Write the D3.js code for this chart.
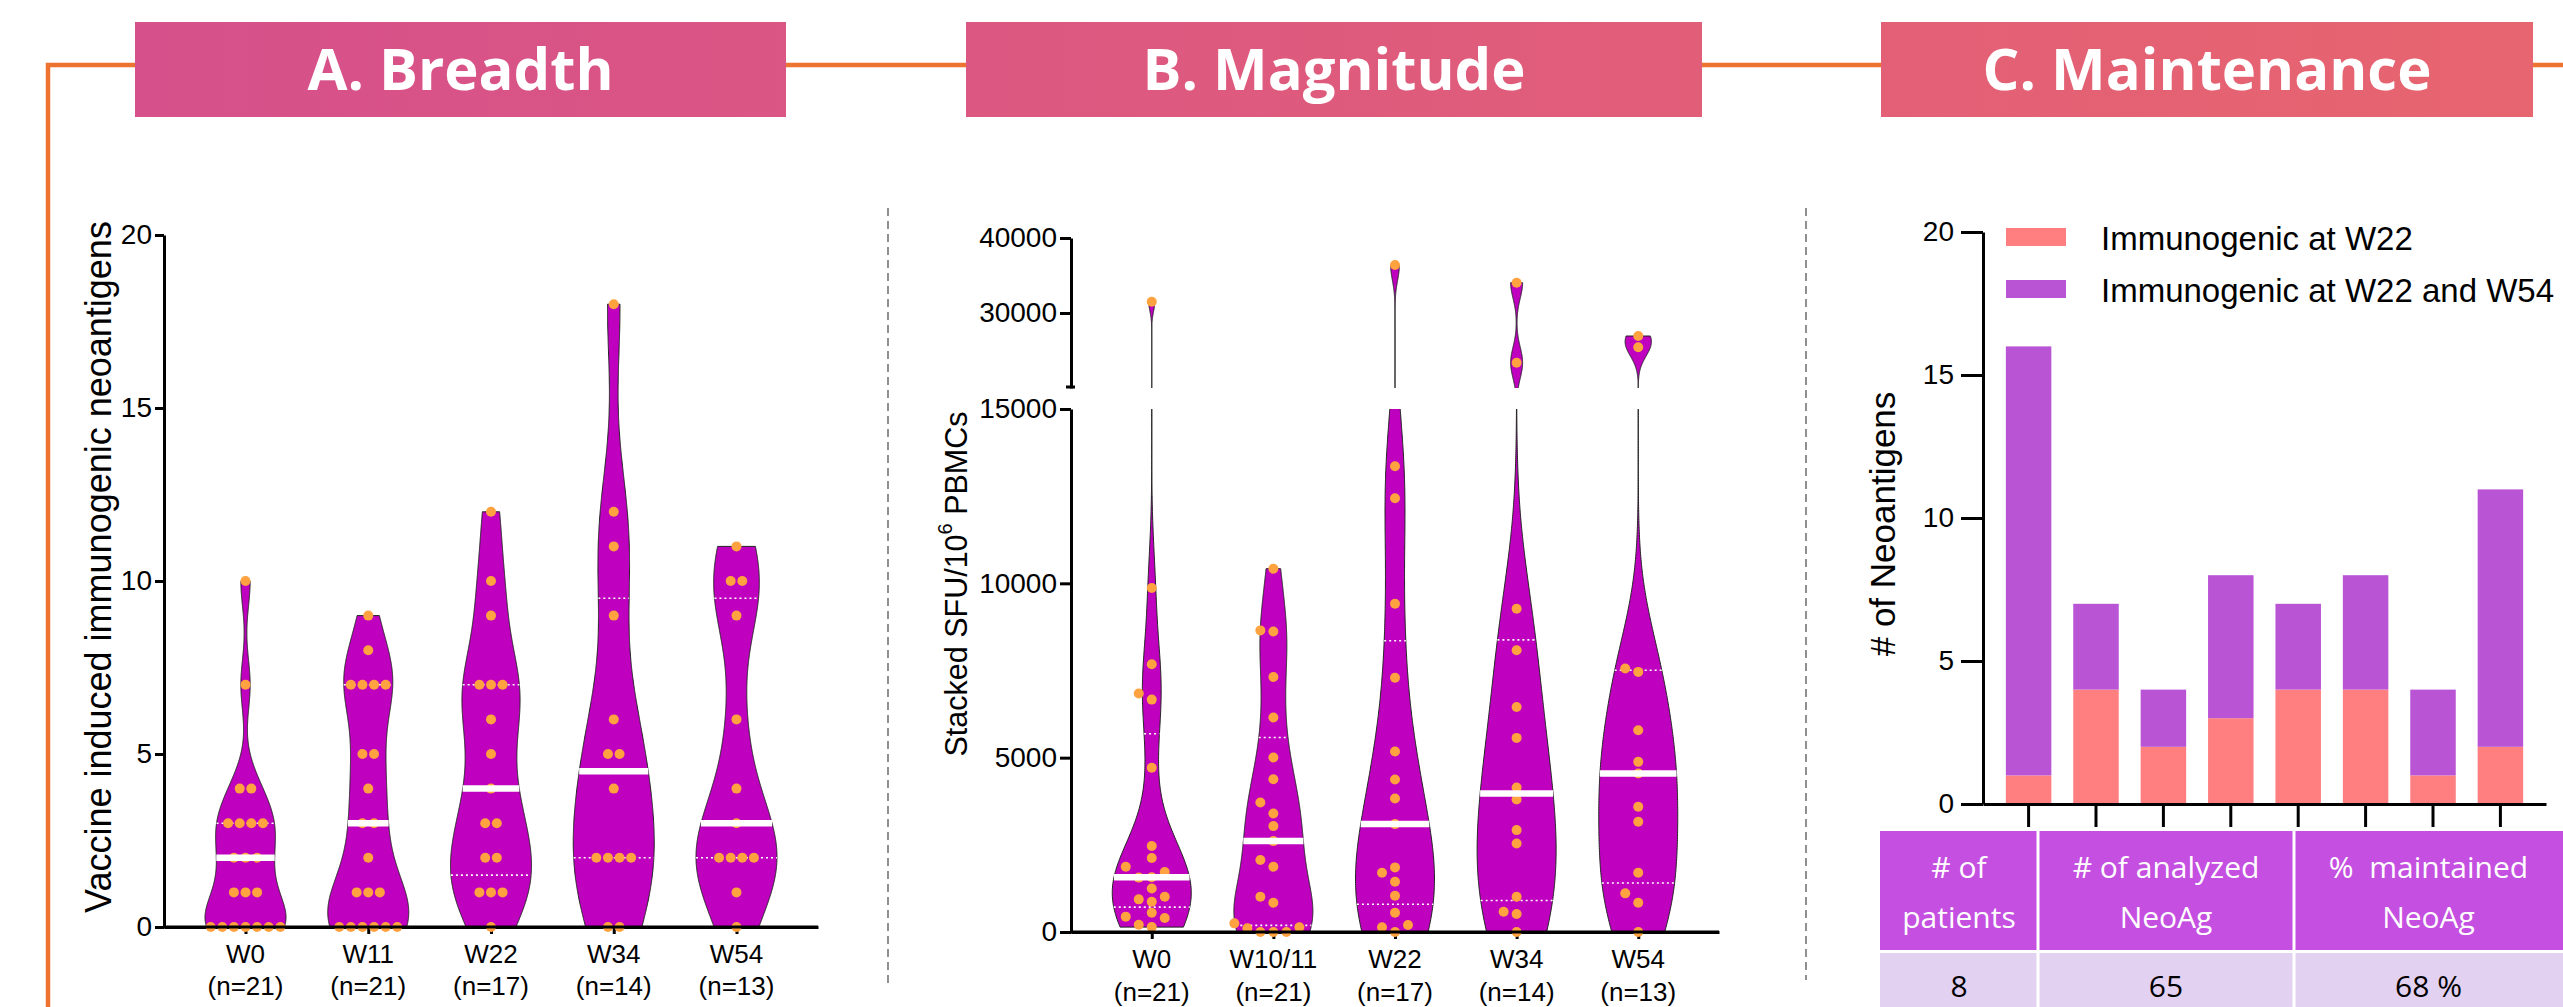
<!DOCTYPE html>
<html><head><meta charset="utf-8">
<script src="https://cdn.jsdelivr.net/npm/d3@7"></script>
<style>
html,body{margin:0;padding:0;background:#fff;}
svg{display:block;}
</style></head><body>
<svg id="chart" width="2563" height="1007"></svg>
<script>
// ---------------- data ----------------
const panelTitles = ["A. Breadth", "B. Magnitude", "C. Maintenance"];

const breadthCategories = ["W0", "W11", "W22", "W34", "W54"];
const breadthCounts = ["(n=21)", "(n=21)", "(n=17)", "(n=14)", "(n=13)"];
const breadthW0  = [0,0,0,0,0,0,0,1,1,1,2,2,2,3,3,3,3,4,4,7,10];
const breadthW11 = [0,0,0,0,0,0,1,1,1,2,3,3,4,5,5,7,7,7,7,8,9];
const breadthW22 = [0,1,1,1,2,2,3,3,4,5,6,7,7,7,9,10,12];
const breadthW34 = [0,0,2,2,2,2,4,5,5,6,9,11,12,18];
const breadthW54 = [0,1,2,2,2,2,3,4,6,9,10,10,11];
const breadthTicks = [0, 5, 10, 15, 20];
const breadthAxisTitle = "Vaccine induced immunogenic neoantigens";

const magnitudeCategories = ["W0", "W10/11", "W22", "W34", "W54"];
const magnitudeCounts = ["(n=21)", "(n=21)", "(n=17)", "(n=14)", "(n=13)"];
const magnitudeW0   = [140,210,400,440,554,870,936,1012,1250,1560,1570,1720,1872,2120,2465,4710,6665,6840,7680,9865,31500];
const magnitudeW1011 = [0,0,0,105,134,248,840,1012,1872,2063,2607,3037,3400,3715,4383,5005,6150,7315,8620,8650,10420];
const magnitudeW22  = [0,134,200,554,1041,1442,1700,1853,3094,3830,4373,5175,7290,9415,12440,13360,36400];
const magnitudeW34  = [0,516,582,1012,2540,2922,3800,4145,5567,6455,8080,9273,23370,34040];
const magnitudeW54  = [0,840,1108,1700,3160,3590,4546,4880,5787,7460,7555,25430,26930];
const magnitudeTicksLow = [0, 5000, 10000, 15000];
const magnitudeTicksHigh = [30000, 40000];

const maintenancePatients = ["P1","P2","P3","P4","P5","P6","P7","P8"];
const maintenanceW22Only = [1,4,2,3,4,4,1,2];
const maintenanceW22andW54 = [15,3,2,5,3,4,3,9];
const maintenanceTicks = [0, 5, 10, 15, 20];
const maintenanceLegend = ["Immunogenic at W22", "Immunogenic at W22 and W54"];
const tableHeaders = [["# of", "patients"], ["# of analyzed", "NeoAg"], ["%  maintained", "NeoAg"]];

// ---------------- style ----------------
const FONT = "Arial, 'Liberation Sans', Helvetica, sans-serif";
const TFONT = "'Open Sans', 'Noto Sans', sans-serif";
const VIOLIN = "#BF00BF";
const DOT = "#FFA23F";
const PINK = "#FF7F80";
const PURPLE = "#B955D5";
const ORANGE = "#EE7230";

const svg = d3.select("#chart");
const defs = svg.append("defs");

const grad = defs.append("linearGradient").attr("id", "titleGrad")
  .attr("gradientUnits", "userSpaceOnUse").attr("x1", 135).attr("x2", 2533).attr("y1", 0).attr("y2", 0);
grad.append("stop").attr("offset", 0).attr("stop-color", "#D6508B");
grad.append("stop").attr("offset", 1).attr("stop-color", "#E7656F");

// frame
svg.append("path").attr("d", "M48,1007V65H2563").attr("fill", "none")
  .attr("stroke", ORANGE).attr("stroke-width", 4.5);

const titleBoxes = [[135, 786], [966, 1702], [1881, 2533]];
panelTitles.forEach((t, i) => {
  const [x0, x1] = titleBoxes[i];
  svg.append("rect").attr("x", x0).attr("y", 22).attr("width", x1 - x0).attr("height", 95)
    .attr("fill", "url(#titleGrad)");
  svg.append("text").attr("x", (x0 + x1) / 2).attr("y", 90).attr("text-anchor", "middle")
    .attr("font-family", TFONT).attr("font-weight", 700).attr("font-size", 58)
    .attr("fill", "#fff").text(t);
});

// separators
[[888, 208, 987], [1806, 208, 980]].forEach(([x, y0, y1]) => {
  svg.append("line").attr("x1", x).attr("x2", x).attr("y1", y0).attr("y2", y1)
    .attr("stroke", "#555").attr("stroke-width", 1.3).attr("stroke-dasharray", "8,5");
});

// ---------------- helpers ----------------
function quartile(s, p) {
  const n = s.length, h = (n + 1) * p, lo = Math.floor(h);
  if (lo < 1) return s[0];
  if (lo >= n) return s[n - 1];
  return s[lo - 1] + (h - lo) * (s[lo] - s[lo - 1]);
}
function bandwidth(s) {
  const n = s.length, sd = d3.deviation(s);
  const iqr = quartile(s, 0.75) - quartile(s, 0.25);
  const spread = iqr > 0 ? Math.min(sd, iqr / 1.34) : sd;
  return 0.9 * spread * Math.pow(n, -0.2) * 0.7;
}
function violinShape(s, halfW) {
  const bw = bandwidth(s);
  const f = v => d3.sum(s, x => Math.exp(-0.5 * ((v - x) / bw) ** 2));
  const lo = s[0], hi = s[s.length - 1], N = 600;
  const pts = d3.range(N + 1).map(i => { const v = lo + (hi - lo) * i / N; return { v, d: f(v) }; });
  const maxD = d3.max(pts, p => p.d);
  pts.forEach(p => p.w = p.d / maxD * halfW);
  return { pts, width: v => f(v) / maxD * halfW };
}
function styleAxis(g, fs) {
  g.select(".domain").attr("stroke", "#000").attr("stroke-width", 3);
  g.selectAll(".tick line").attr("stroke", "#000").attr("stroke-width", 3);
  g.selectAll(".tick text").attr("font-family", FONT).attr("font-size", fs).attr("fill", "#000");
}
function rotatedTitle(x, y, size) {
  return svg.append("text").attr("transform", `translate(${x},${y}) rotate(-90)`)
    .attr("text-anchor", "middle").attr("dominant-baseline", "central")
    .attr("font-family", FONT).attr("font-size", size).attr("fill", "#000");
}

// generic violin panel
function violinPanel(opts) {
  const { cats, counts, groups, x, segments, yPix, halfW, dotLayout, labelY } = opts;
  const g = svg.append("g");
  groups.forEach((vals, i) => {
    const s = vals.slice().sort(d3.ascending);
    const shape = violinShape(s, halfW);
    const cx = x(cats[i]);
    segments.forEach(seg => {
      const area = d3.area().x0(p => cx - p.w).x1(p => cx + p.w).y(p => seg.y(p.v));
      g.append("path").attr("d", area(shape.pts)).attr("fill", VIOLIN)
        .attr("stroke", "#222").attr("stroke-width", 1)
        .attr("clip-path", seg.clip ? `url(#${seg.clip})` : null);
    });
    // quartiles
    [0.25, 0.75].forEach(p => {
      const q = quartile(s, p), w = shape.width(q);
      g.append("line").attr("x1", cx - w).attr("x2", cx + w).attr("y1", yPix(q)).attr("y2", yPix(q))
        .attr("stroke", "#fff").attr("stroke-width", 1.6).attr("stroke-dasharray", "2,3");
    });
    // dots
    const placed = dotLayout(s, cx);
    g.selectAll(null).data(placed).join("circle")
      .attr("cx", d => d.x).attr("cy", d => d.y).attr("r", 5).attr("fill", DOT);
    // median
    const med = quartile(s, 0.5), mw = shape.width(med);
    g.append("line").attr("x1", cx - mw).attr("x2", cx + mw).attr("y1", yPix(med)).attr("y2", yPix(med))
      .attr("stroke", "#fff").attr("stroke-width", 6.5);
  });
  // category labels
  cats.forEach((c, i) => {
    const t = svg.append("text").attr("x", x(c)).attr("text-anchor", "middle")
      .attr("font-family", FONT).attr("font-size", 26).attr("fill", "#000");
    t.append("tspan").attr("x", x(c)).attr("y", labelY[0]).text(c);
    t.append("tspan").attr("x", x(c)).attr("y", labelY[1]).text(counts[i]);
  });
}

// ---------------- Panel A ----------------
const xA = d3.scalePoint().domain(breadthCategories).range([164, 818]).padding(0.664);
const yA = d3.scaleLinear().domain([0, 20]).range([927, 235]);
{
  const ax = svg.append("g").attr("transform", "translate(164,0)")
    .call(d3.axisLeft(yA).tickValues(breadthTicks).tickSize(9).tickSizeOuter(0).tickPadding(3));
  styleAxis(ax, 28);
  const bx = svg.append("g").attr("transform", "translate(0,927)")
    .call(d3.axisBottom(xA).tickSize(7).tickSizeOuter(0).tickFormat(""));
  styleAxis(bx, 26);
  rotatedTitle(98, 567, 36).text(breadthAxisTitle);
}
violinPanel({
  cats: breadthCategories, counts: breadthCounts,
  groups: [breadthW0, breadthW11, breadthW22, breadthW34, breadthW54],
  x: xA, segments: [{ y: yA }], yPix: yA, halfW: 40.5, labelY: [963, 995],
  dotLayout: (s, cx) => {
    const rows = d3.group(s, v => v);
    const out = [];
    rows.forEach((arr, v) => arr.forEach((_, k) => out.push({ x: cx + (k - (arr.length - 1) / 2) * 11.6, y: yA(v) })));
    return out;
  }
});
svg.append("line").attr("x1", 164).attr("x2", 818).attr("y1", 927).attr("y2", 927).attr("stroke", "#000").attr("stroke-width", 3);

// ---------------- Panel B ----------------
const xB = d3.scalePoint().domain(magnitudeCategories).range([1071, 1719]).padding(0.664);
const yBlow = d3.scaleLinear().domain([0, 15000]).range([932, 409]);
const yBhigh = d3.scaleLinear().domain([20000, 40000]).range([388, 238]);
const yB = v => v <= 15000 ? yBlow(v) : yBhigh(v);
defs.append("clipPath").attr("id", "clipLow").append("rect").attr("x", 1000).attr("y", 409).attr("width", 800).attr("height", 530);
defs.append("clipPath").attr("id", "clipHigh").append("rect").attr("x", 1000).attr("y", 230).attr("width", 800).attr("height", 158);
{
  const a1 = svg.append("g").attr("transform", "translate(1071,0)")
    .call(d3.axisLeft(yBlow).tickValues(magnitudeTicksLow).tickSize(11).tickSizeOuter(0).tickPadding(3).tickFormat(d3.format("d")));
  styleAxis(a1, 28);
  const a2 = svg.append("g").attr("transform", "translate(1071,0)")
    .call(d3.axisLeft(yBhigh).tickValues(magnitudeTicksHigh).tickSize(11).tickSizeOuter(0).tickPadding(3).tickFormat(d3.format("d")));
  styleAxis(a2, 28);
  svg.append("line").attr("x1", 1066).attr("x2", 1075).attr("y1", 387).attr("y2", 387).attr("stroke", "#000").attr("stroke-width", 3);
  const bx = svg.append("g").attr("transform", "translate(0,932)")
    .call(d3.axisBottom(xB).tickSize(7).tickSizeOuter(0).tickFormat(""));
  styleAxis(bx, 26);
  const t = rotatedTitle(956, 584, 30.5);
  t.append("tspan").text("Stacked SFU/10");
  t.append("tspan").attr("font-size", 20).attr("dy", -11).text("6");
  t.append("tspan").attr("dy", 11).text(" PBMCs");
}
violinPanel({
  cats: magnitudeCategories, counts: magnitudeCounts,
  groups: [magnitudeW0, magnitudeW1011, magnitudeW22, magnitudeW34, magnitudeW54],
  x: xB, segments: [{ y: yBlow, clip: "clipLow" }, { y: yBhigh, clip: "clipHigh" }],
  yPix: yB, halfW: 39.5, labelY: [968, 1001],
  dotLayout: (s, cx) => {
    const pts = s.map(v => ({ v, y: yB(v) })).sort((a, b) => b.y - a.y);
    const placed = [];
    pts.forEach(p => {
      for (let k = 0; k < 30; k++) {
        const off = k === 0 ? 0 : (k % 2 ? -1 : 1) * Math.ceil(k / 2) * 13;
        if (placed.every(q => Math.hypot(q.off - off, q.y - p.y) >= 11)) { p.off = off; break; }
      }
      placed.push(p);
    });
    return placed.map(p => ({ x: cx + p.off, y: p.y }));
  }
});
svg.append("line").attr("x1", 1071).attr("x2", 1719).attr("y1", 932).attr("y2", 932).attr("stroke", "#000").attr("stroke-width", 3);

// ---------------- Panel C ----------------
const xC = d3.scaleBand().domain(maintenancePatients).range([1983, 2546]).paddingInner(0.325).paddingOuter(0.339);
const yC = d3.scaleLinear().domain([0, 20]).range([804, 232]);
{
  const stackData = maintenancePatients.map((p, i) => ({ p, only: maintenanceW22Only[i], both: maintenanceW22andW54[i] }));
  const series = d3.stack().keys(["only", "both"])(stackData);
  const colors = { only: PINK, both: PURPLE };
  series.forEach(s => {
    svg.append("g").selectAll("rect").data(s).join("rect")
      .attr("x", d => xC(d.data.p)).attr("width", xC.bandwidth())
      .attr("y", d => yC(d[1])).attr("height", d => yC(d[0]) - yC(d[1]))
      .attr("fill", colors[s.key]);
  });
  const ay = svg.append("g").attr("transform", "translate(1983,0)")
    .call(d3.axisLeft(yC).tickValues(maintenanceTicks).tickSize(22).tickSizeOuter(0).tickPadding(7));
  styleAxis(ay, 28);
  const ax = svg.append("g").attr("transform", "translate(0,804)")
    .call(d3.axisBottom(xC).tickSize(23).tickSizeOuter(0).tickFormat(""));
  styleAxis(ax, 26);
  rotatedTitle(1882, 524, 35).text("# of Neoantigens");

  // legend
  [PINK, PURPLE].forEach((c, i) => {
    svg.append("rect").attr("x", 2006).attr("y", 228 + i * 52).attr("width", 60).attr("height", 18).attr("fill", c);
    svg.append("text").attr("x", 2101).attr("y", 250 + i * 52).attr("font-family", FONT)
      .attr("font-size", 33).attr("fill", "#000").text(maintenanceLegend[i]);
  });

  // table
  const total = d3.sum(maintenanceW22Only) + d3.sum(maintenanceW22andW54);
  const kept = d3.sum(maintenanceW22andW54);
  const tableValues = [String(maintenancePatients.length), String(total), Math.round(kept / total * 100) + " %"];
  const cols = [1880, 2038, 2294, 2563];
  tableHeaders.forEach((h, i) => {
    const x0 = cols[i], x1 = cols[i + 1], cx = (x0 + x1) / 2;
    svg.append("rect").attr("x", x0).attr("y", 831).attr("width", x1 - x0).attr("height", 119).attr("fill", "#C44FE0");
    svg.append("rect").attr("x", x0).attr("y", 953).attr("width", x1 - x0).attr("height", 60).attr("fill", "#E3D1F1");
    h.forEach((line, j) => {
      svg.append("text").attr("x", cx).attr("y", 878 + j * 50).attr("text-anchor", "middle")
        .attr("font-family", TFONT).attr("font-size", 30).attr("fill", "#fff")
        .attr("xml:space", "preserve").style("white-space", "pre").text(line);
    });
    svg.append("text").attr("x", cx).attr("y", 997).attr("text-anchor", "middle")
      .attr("font-family", TFONT).attr("font-size", 30).attr("fill", "#000").text(tableValues[i]);
  });
  [2038, 2294].forEach(x => svg.append("line").attr("x1", x).attr("x2", x).attr("y1", 831).attr("y2", 1007)
    .attr("stroke", "#fff").attr("stroke-width", 3));
}
</script>
</body></html>
